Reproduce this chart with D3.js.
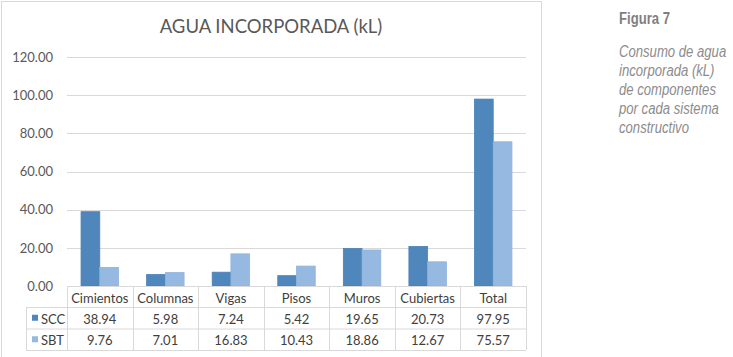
<!DOCTYPE html>
<html>
<head>
<meta charset="utf-8">
<script src="https://cdn.jsdelivr.net/npm/d3@7"></script>
<style>
  html, body { margin: 0; padding: 0; background: #fff; }
  svg { display: block; }
</style>
</head>
<body>
<svg id="chart" width="733" height="357"></svg>
<script>
const categories = ["Cimientos", "Columnas", "Vigas", "Pisos", "Muros", "Cubiertas", "Total"];
const seriesNames = ["SCC", "SBT"];
const scc = [38.94, 5.98, 7.24, 5.42, 19.65, 20.73, 97.95];
const sbt = [9.76, 7.01, 16.83, 10.43, 18.86, 12.67, 75.57];
const yTicks = [0, 20, 40, 60, 80, 100, 120];
const title = "AGUA INCORPORADA (kL)";
const figLabel = "Figura 7";
const captionLines = ["Consumo de agua", "incorporada (kL)", "de componentes", "por cada sistema", "constructivo"];

const colors = { SCC: "#4f87bd", SBT: "#95b9e0" };
const strokes = { SCC: "#4a80b5", SBT: "#8fb3db" };
const font = "Lato, 'Open Sans', sans-serif";
const seriesData = { SCC: scc, SBT: sbt };

const svg = d3.select("#chart");

// chart frame
svg.append("rect").attr("x", 1.5).attr("y", 1.5).attr("width", 540).attr("height", 360)
  .attr("fill", "#fff").attr("stroke", "#d9d9d9").attr("stroke-width", 1);

const plotL = 67, plotR = 526, plotT = 57, plotB = 286;
const x = d3.scaleBand().domain(categories).range([plotL, plotR]).paddingInner(0).paddingOuter(0);
const xInner = d3.scaleBand().domain(seriesNames).range([0, x.bandwidth()]).paddingInner(0).paddingOuter(0.75);
const y = d3.scaleLinear().domain([0, 120]).range([plotB, plotT]);

// gridlines
svg.append("g").selectAll("line").data(yTicks.filter(d => d > 0)).join("line")
  .attr("x1", plotL).attr("x2", plotR)
  .attr("y1", d => Math.round(y(d)) + 0.5).attr("y2", d => Math.round(y(d)) + 0.5)
  .attr("stroke", "#d9d9d9").attr("stroke-width", 1);

// y axis labels
const yAxis = d3.axisLeft(y).tickValues(yTicks).tickFormat(d3.format(".2f")).tickSize(0).tickPadding(0);
const ga = svg.append("g").attr("transform", `translate(53,0)`).call(yAxis);
ga.select(".domain").remove();
ga.selectAll("text").attr("font-family", font).attr("font-size", 13).attr("fill", "#595959");

// bars
const gBars = svg.append("g");
seriesNames.forEach(s => {
  gBars.selectAll(null).data(categories.map((c, i) => ({ c, v: seriesData[s][i] }))).join("rect")
    .attr("x", d => x(d.c) + xInner(s))
    .attr("y", d => y(d.v))
    .attr("width", xInner.bandwidth())
    .attr("height", d => y(0) - y(d.v))
    .attr("fill", colors[s])
    .attr("stroke", strokes[s]).attr("stroke-width", 0.8);
});

// data table
const rowY = [plotB, 307, 328.5, 350];
const tableL = 26;
const gT = svg.append("g").attr("stroke", "#d9d9d9").attr("stroke-width", 1);
gT.append("line").attr("x1", plotL).attr("x2", plotR).attr("y1", rowY[0] + 0.5).attr("y2", rowY[0] + 0.5);
rowY.slice(1).forEach(ry => {
  gT.append("line").attr("x1", tableL).attr("x2", plotR).attr("y1", ry + 0.5).attr("y2", ry + 0.5);
});
const edges = categories.map(c => x(c)).concat([plotR]);
edges.forEach(ex => {
  gT.append("line").attr("x1", Math.round(ex) + 0.5).attr("x2", Math.round(ex) + 0.5)
    .attr("y1", rowY[0]).attr("y2", rowY[3]);
});
gT.append("line").attr("x1", tableL + 0.5).attr("x2", tableL + 0.5).attr("y1", rowY[1]).attr("y2", rowY[3]);

const gTx = svg.append("g").attr("font-family", font).attr("font-size", 13).attr("fill", "#404040")
  .attr("text-anchor", "middle").attr("dominant-baseline", "central");
gTx.selectAll(null).data(categories).join("text")
  .attr("x", d => x(d) + x.bandwidth() / 2).attr("y", (rowY[0] + rowY[1]) / 2 + 1).text(d => d);
seriesNames.forEach((s, si) => {
  const cy = (rowY[si + 1] + rowY[si + 2]) / 2 + 1;
  gTx.selectAll(null).data(categories.map((c, i) => ({ c, v: seriesData[s][i] }))).join("text")
    .attr("x", d => x(d.c) + x.bandwidth() / 2).attr("y", cy).text(d => d3.format(".2f")(d.v));
  svg.append("rect").attr("x", 32).attr("y", cy - 4).attr("width", 6).attr("height", 6).attr("fill", colors[s]);
  svg.append("text").attr("x", 41).attr("y", cy).attr("dominant-baseline", "central")
    .attr("font-family", font).attr("font-size", 13).attr("fill", "#404040").text(s);
});

// title
svg.append("text").attr("x", 271).attr("y", 33).attr("text-anchor", "middle")
  .attr("font-family", font).attr("font-size", 18.5).attr("fill", "#595959").text(title);

// caption (narrow font emulated by horizontal compression)
const capFont = "'Liberation Sans', Arial, sans-serif";
const cap = svg.append("g").attr("transform", "translate(619,0) scale(0.82,1)");
cap.append("text").attr("x", 0).attr("y", 24).attr("font-family", capFont)
  .attr("font-size", 16).attr("font-weight", "bold").attr("fill", "#7f7f7f").text(figLabel);
cap.selectAll(null).data(captionLines).join("text")
  .attr("x", 0).attr("y", (d, i) => 57 + i * 19)
  .attr("font-family", capFont).attr("font-size", 16).attr("font-style", "italic")
  .attr("fill", "#8c8c8c").text(d => d);
</script>
</body>
</html>
